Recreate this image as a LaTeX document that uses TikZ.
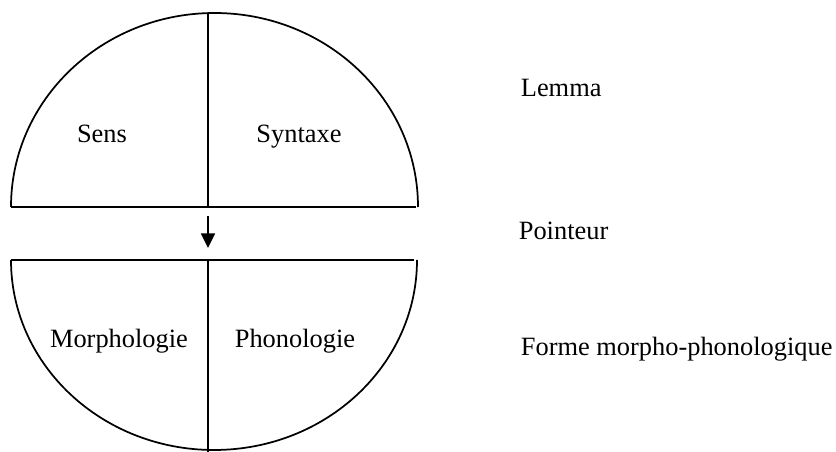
\documentclass[tikz,border=0pt]{standalone}
\usepackage{fontspec}
\setmainfont{Liberation Serif}
\usetikzlibrary{arrows.meta}

\begin{document}
\begin{tikzpicture}[
    x=0.75pt, y=0.75pt,
    line width=1.3pt,
    txt/.style={font=\fontsize{19.8}{24}\selectfont, inner sep=0pt, anchor=base},
    side/.style={txt, anchor=base west},
    arrow/.style={-{Triangle[length=11pt, width=10.5pt]}}
]
\useasboundingbox (0,0) rectangle (836,-452);

% upper half: lemma
\draw (11,-207) arc[start angle=180, end angle=0, x radius=203.5, y radius=194];
\draw (11,-207) -- (416,-207);
\draw (208,-13) -- (208,-207);

% lower half: form
\draw (11,-260) arc[start angle=180, end angle=360, x radius=203, y radius=190];
\draw (11,-260) -- (414,-260);
\draw (208,-260) -- (208,-452);

\node[txt] (sens) at (102,-143) {Sens};
\node[txt] (syntaxe) at (299,-143) {Syntaxe};
\node[txt] (morpho) at (119,-348) {Morphologie};
\node[txt] (phono) at (295,-348) {Phonologie};

\node[side] (lemma) at (520,-97) {Lemma};
\node[side] (pointeur) at (518,-240) {Pointeur};
\node[side] (forme) at (520,-356) {Forme morpho-phonologique};

% pointer
\coordinate (ptrtop) at (208,-216);
\coordinate (ptrbot) at (208,-248);
\draw[arrow] (ptrtop) -- (ptrbot);
\end{tikzpicture}
\end{document}
